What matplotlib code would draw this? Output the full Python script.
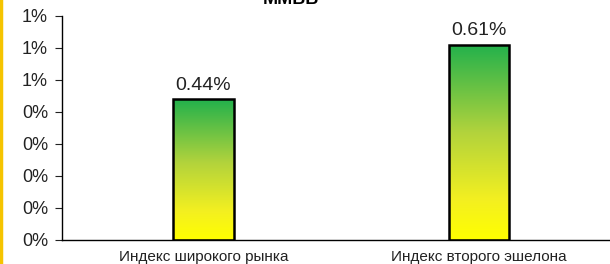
import numpy as np
import matplotlib.pyplot as plt
from matplotlib.colors import LinearSegmentedColormap
from matplotlib.ticker import FuncFormatter, MultipleLocator
from matplotlib.lines import Line2D

plt.rcParams['font.family'] = ['Liberation Sans', 'DejaVu Sans']

title = "ММВБ"
categories = ["Индекс широкого рынка", "Индекс второго эшелона"]
values = [0.44, 0.61]  # percent

grad = LinearSegmentedColormap.from_list(
    "yg", [(0.0, "#ffff00"), (0.2, "#f4f020"), (0.55, "#b2d33c"), (1.0, "#22b14c")])

fig = plt.figure(figsize=(6.1, 2.64), dpi=100)
ax = fig.add_axes([62 / 610, 24 / 264, 551 / 610, 224 / 264])

x = np.arange(len(categories))
bars = ax.bar(x, values, width=0.22, color="none", edgecolor="black", linewidth=1.8, zorder=3)
g = np.linspace(0, 1, 256).reshape(-1, 1)
for b in bars:
    x0, y0 = b.get_x(), b.get_y()
    im = ax.imshow(g, cmap=grad, origin="lower", aspect="auto",
                   extent=[x0, x0 + b.get_width(), y0, y0 + b.get_height()], zorder=2)
    im.set_clip_path(b)
    ax.annotate(f"{b.get_height():.2f}%", (b.get_x() + b.get_width() / 2, b.get_height()),
                xytext=(0, 4), textcoords="offset points", ha="center", va="bottom",
                fontsize=14, color="#222222")

ax.set_xlim(-0.513, 1.487)
ax.set_ylim(0, 0.7)
ax.yaxis.set_major_locator(MultipleLocator(0.1))
ax.yaxis.set_major_formatter(FuncFormatter(lambda v, p: f"{round(v + 1e-9):.0f}%"))
ax.set_xticks(x)
ax.set_xticklabels(categories, fontsize=11, color="#222222")
ax.tick_params(axis="x", length=0, pad=7)
ax.tick_params(axis="y", labelsize=13, length=5, direction="out", colors="#222222", pad=5)
ax.spines["top"].set_visible(False)
ax.spines["right"].set_visible(False)
for s in ("left", "bottom"):
    ax.spines[s].set_color("black")
    ax.spines[s].set_linewidth(1)

fig.text(291 / 610, 1.0, title, ha="center", va="center", fontsize=13, fontweight="bold")
fig.add_artist(Line2D([1 / 610, 1 / 610], [0, 1], color="#f5c400", linewidth=2.5))

fig.savefig("out.png", dpi=100)
